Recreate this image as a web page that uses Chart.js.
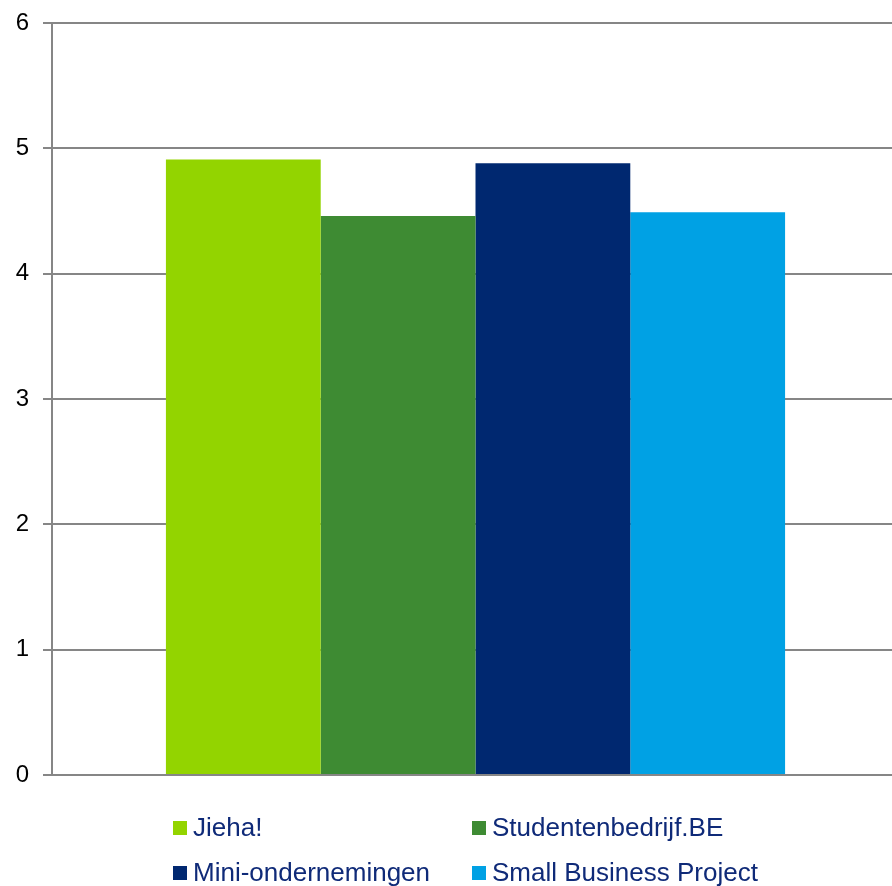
<!DOCTYPE html>
<html>
<head>
<meta charset="utf-8">
<script src="https://cdn.jsdelivr.net/npm/chart.js@4"></script>
<style>
  html, body { margin: 0; padding: 0; background: #fff; }
  #wrap { width: 892px; height: 886px; overflow: hidden; position: relative; }
</style>
</head>
<body>
<div id="wrap"><canvas id="myChart" width="899" height="886"></canvas></div>
<script>
// data
var categories = [''];
var seriesNames = ['Jieha!', 'Studentenbedrijf.BE', 'Mini-ondernemingen', 'Small Business Project'];
var seriesValues = [4.91, 4.46, 4.88, 4.49];
var seriesColors = ['#93d400', '#3e8b33', '#002870', '#00a1e4'];
var yTicks = [0, 1, 2, 3, 4, 5, 6];

var gridColor = '#868686';
var textFont = '"Liberation Sans", Arial, sans-serif';

// legend drawn as a 2x2 grid under the plot
var legendGrid = {
  id: 'legendGrid',
  afterDraw: function(chart){
    var ctx = chart.ctx;
    var cols = [173, 472];
    var rows = [828, 873];
    ctx.save();
    ctx.font = '26px ' + textFont;
    ctx.textBaseline = 'middle';
    ctx.textAlign = 'left';
    for (var i = 0; i < seriesNames.length; i++) {
      var x = cols[i % 2], y = rows[Math.floor(i / 2)];
      ctx.fillStyle = seriesColors[i];
      ctx.fillRect(x, y - 7, 14, 14);
      ctx.fillStyle = '#0f2a78';
      ctx.fillText(seriesNames[i], x + 20, y + 1);
    }
    ctx.restore();
  }
};

var datasets = seriesNames.map(function(name, i){
  return {
    label: name,
    data: [seriesValues[i]],
    backgroundColor: seriesColors[i],
    borderWidth: 0,
    categoryPercentage: 0.731,
    barPercentage: 1.0
  };
});

var ctx = document.getElementById('myChart');
var myChart = new Chart(ctx, {
  type: 'bar',
  data: {
    labels: categories,
    datasets: datasets
  },
  options: {
    responsive: false,
    animation: false,
    layout: {
      padding: { top: 23, right: 0, bottom: 111, left: 0 }
    },
    plugins: {
      legend: { display: false },
      tooltip: { enabled: false }
    },
    scales: {
      x: {
        display: false
      },
      y: {
        min: 0,
        max: 6,
        afterBuildTicks: function(scale){
          scale.ticks = yTicks.map(function(v){ return { value: v }; });
        },
        afterFit: function(scale){
          scale.width = 52;
          scale.paddingTop = 0;
          scale.paddingBottom = 0;
        },
        grid: {
          color: gridColor,
          lineWidth: 2,
          tickLength: 9,
          drawTicks: true
        },
        border: {
          color: gridColor,
          width: 2
        },
        ticks: {
          color: '#000',
          padding: 14,
          font: { family: textFont, size: 24 }
        }
      }
    }
  },
  plugins: [legendGrid]
});
</script>
</body>
</html>
